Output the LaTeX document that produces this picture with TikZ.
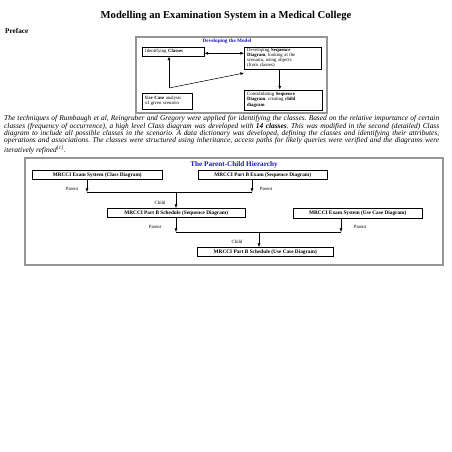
\documentclass[tikz,border=0pt]{standalone}
\usepackage{fontspec}
\setmainfont{Liberation Serif}
\usetikzlibrary{arrows.meta}

\definecolor{headblue}{RGB}{20,20,200}
\tikzset{
  frame/.style={draw={rgb,255:red,150;green,150;blue,150}, line width=1.3pt},
  stepbox/.style={draw, line width=0.45pt, anchor=north west, inner xsep=3pt, inner ysep=0.8pt, align=left, font=\fontsize{4.8}{5.2}\selectfont},
  hbox/.style={draw, line width=0.5pt, anchor=north west, inner sep=0pt, font=\bfseries\fontsize{5.3}{6}\selectfont},
  lbl/.style={inner sep=0pt, font=\fontsize{4.8}{5}\selectfont},
  tip/.style={-{Latex[length=3.6pt,width=3pt]}, line width=0.5pt},
  link/.style={line width=0.5pt}
}

\begin{document}
\begin{tikzpicture}[x=1pt,y=1pt,yscale=-1,xscale=1]
\useasboundingbox (0,0) rectangle (452,452);

% Text Node
\node[font=\bfseries\fontsize{10.6}{12}\selectfont] (title) at (226,16) {Modelling an Examination System in a Medical College};
% Text Node
\node[anchor=west, inner sep=0pt, font=\bfseries\fontsize{7.2}{8}\selectfont] (preface) at (5,31) {Preface};

%Shape: Rectangle
\draw[frame] (136,37) rectangle (327,113);
% Text Node
\node[text=headblue, font=\bfseries\fontsize{5.2}{6}\selectfont] (modelhead) at (227,41) {Developing the Model};

%Shape: Rectangle
\node[stepbox, text width=56pt, minimum height=9pt] (classes) at (142,47) {Identifying \textbf{Classes}};
%Shape: Rectangle
\node[stepbox, text width=71pt, minimum height=21pt] (seqdiag) at (244,47) {Developing \textbf{Sequence}\\ \textbf{Diagram}, looking at the\\ scenario, using objects\\ (from classes)};
%Shape: Rectangle
\node[stepbox, text width=44pt, minimum height=16pt] (usecase) at (142,93) {\textbf{Use Case} analysis\\ of given scenario};
%Shape: Rectangle
\node[stepbox, text width=72pt, minimum height=20pt] (consol) at (244,89.5) {Consolidating \textbf{Sequence}\\ \textbf{Diagram}, creating \textbf{child}\\ \textbf{diagram}};

\coordinate (fork) at (169,88);
%Straight Lines
\draw[{Latex[length=3.6pt,width=3pt]}-{Latex[length=3.6pt,width=3pt]}, line width=0.5pt] ([yshift=1.5pt]classes.east) -- ([yshift=1.5pt]classes.east -| seqdiag.west);
\draw[tip] (fork) -- (classes.south -| fork);
\draw[tip] (fork) -- ([yshift=4pt]seqdiag.south west);
\draw[tip] ([xshift=-3pt]seqdiag.south) -- ([xshift=-3pt]seqdiag.south |- consol.north);

% Text Node
\node[anchor=north west, inner sep=0pt, text width=435pt, align=justify, font=\frenchspacing\itshape\fontsize{7.4}{7.4}\selectfont] (preftext) at (4,115.2) {The techniques of Rumbaugh et al, Reingruber and Gregory were applied for identifying the classes. Based on the relative importance of certain\linebreak classes (frequency of occurrence), a high level Class diagram was developed with \textbf{14 classes}. This was modified in the second (detailed) Class\linebreak diagram to include all possible classes in the scenario. A data dictionary was developed, defining the classes and identifying their attributes,\linebreak operations and associations. The classes were structured using inheritance, access paths for likely queries were verified and the diagrams were\linebreak iteratively refined\textsuperscript{[1]}.};

%Shape: Rectangle
\draw[frame] (25,158) rectangle (443,265);
% Text Node
\node[text=headblue, font=\bfseries\fontsize{7.2}{8}\selectfont] (hierhead) at (234,165) {The Parent-Child Hierarchy};

%Shape: Rectangle
\node[hbox, minimum width=130pt, minimum height=9pt] (examclass) at (32,170) {MRCCI Exam System (Class Diagram)};
\node[hbox, minimum width=129pt, minimum height=9pt] (partbseq) at (198,170) {MRCCI Part B Exam (Sequence Diagram)};
\node[hbox, minimum width=138pt, minimum height=9pt] (schedseq) at (107,208) {MRCCI Part B Schedule (Sequence Diagram)};
\node[hbox, minimum width=129pt, minimum height=9.5pt] (examuc) at (293,208) {MRCCI Exam System (Use Case Diagram)};
\node[hbox, minimum width=136pt, minimum height=9pt] (scheduc) at (197,247) {MRCCI Part B Schedule (Use Case Diagram)};

\coordinate (pA) at (87,192);
\coordinate (pB) at (252,192);
\coordinate (cA) at (176,192);
\coordinate (pC) at (176,232);
\coordinate (pD) at (341,232);
\coordinate (cB) at (259,232);

%Straight Lines
\draw[tip] (examclass.south -| pA) -- (pA);
\draw[tip] (partbseq.south -| pB) -- (pB);
\draw[link] (pA) -- (pB);
\draw[tip] (cA) -- (schedseq.north -| cA);
\draw[tip] (schedseq.south -| pC) -- (pC);
\draw[tip] (examuc.south -| pD) -- (pD);
\draw[link] (pC) -- (pD);
\draw[tip] (cB) -- (scheduc.north -| cB);

% Text Node
\node[lbl] (lp1) at (72,189) {Parent};
\node[lbl] (lp2) at (266,189) {Parent};
\node[lbl] (lc1) at (160,203) {Child};
\node[lbl] (lp3) at (155,227) {Parent};
\node[lbl] (lp4) at (360,227) {Parent};
\node[lbl] (lc2) at (237,242) {Child};

\end{tikzpicture}
\end{document}
